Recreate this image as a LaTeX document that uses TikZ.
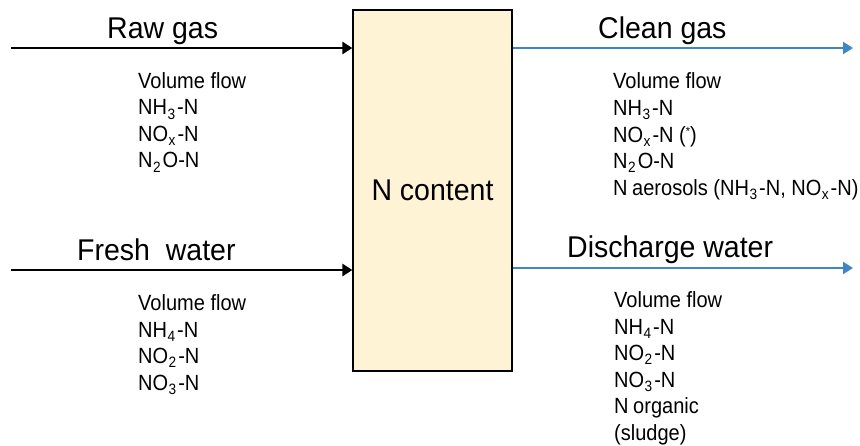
\documentclass[tikz,border=0pt]{standalone}
\usepackage{fontspec}
\setmainfont{Liberation Sans}[FakeStretch=0.91]
\newfontfamily\titlefont{Liberation Sans}[FakeStretch=0.95]
\usetikzlibrary{arrows.meta}
\definecolor{boxfill}{RGB}{255,243,214}
\definecolor{flowblue}{RGB}{62,134,196}
\newcommand\sbs[1]{\hspace{0.5pt}\raisebox{-0.42ex}{\fontsize{15}{15}\selectfont #1}\hspace{2pt}}
\newcommand\sps[1]{\raisebox{0.55ex}{\fontsize{12}{12}\selectfont #1}}
\begin{document}
\begin{tikzpicture}[x=1pt,y=-1pt,
  title/.style={anchor=base west,inner sep=0pt,font=\titlefont\fontsize{30}{32}\selectfont},
  item/.style={anchor=base west,inner sep=0pt,font=\fontsize{22}{24}\selectfont},
  inarrow/.style={line width=2.8pt,draw=black,-{Triangle[length=10pt,width=12pt]}},
  outarrow/.style={line width=2.3pt,draw=flowblue,-{Triangle[length=10pt,width=12pt]}},
  nbox/.style={draw=black,line width=1.2pt,fill=boxfill,minimum width=159pt,minimum height=361pt,inner sep=0pt,font=\titlefont\fontsize{30}{32}\selectfont}]
\useasboundingbox (0,0) rectangle (860,445);
\node[nbox] (box) at (432.5,190.5) {N content};
% raw gas
\coordinate (rgs) at (11,48);
\draw[inarrow] (rgs) -- (rgs -| box.west);
\node[title] (rgt) at (107,38) {Raw gas};
\node[item] (rg1) at (138,88) {Volume flow};
\node[item] (rg2) at (138,114.5) {NH\sbs{3}-N};
\node[item] (rg3) at (138,141) {NO\sbs{x}-N};
\node[item] (rg4) at (138,167.5) {N\sbs{2}O-N};
% fresh water
\coordinate (fws) at (11,270);
\draw[inarrow] (fws) -- (fws -| box.west);
\node[title] (fwt) at (77,260) {Fresh\ \ water};
\node[item] (fw1) at (138,310) {Volume flow};
\node[item] (fw2) at (138,337) {NH\sbs{4}-N};
\node[item] (fw3) at (138,363) {NO\sbs{2}-N};
\node[item] (fw4) at (138,390) {NO\sbs{3}-N};
% clean gas
\coordinate (cge) at (853,48);
\draw[outarrow] (cge -| box.east) -- (cge);
\node[title] (cgt) at (598,38) {Clean gas};
\node[item] (cg1) at (613,88) {Volume flow};
\node[item] (cg2) at (613,115) {NH\sbs{3}-N};
\node[item] (cg3) at (613,142) {NO\sbs{x}-N (\sps{*})};
\node[item] (cg4) at (613,168) {N\sbs{2}O-N};
\node[item] (cg5) at (613,195) {N\hspace{-1pt} aerosols (NH\sbs{3}-N, NO\sbs{x}-N)};
% discharge water
\coordinate (dwe) at (853,268);
\draw[outarrow] (dwe -| box.east) -- (dwe);
\node[title] (dwt) at (567,257) {Discharge water};
\node[item] (dw1) at (614,307) {Volume flow};
\node[item] (dw2) at (614,334) {NH\sbs{4}-N};
\node[item] (dw3) at (614,360) {NO\sbs{2}-N};
\node[item] (dw4) at (614,387) {NO\sbs{3}-N};
\node[item] (dw5) at (614,413) {N\hspace{-1pt} organic};
\node[item] (dw6) at (614,440) {(sludge)};
\end{tikzpicture}
\end{document}
